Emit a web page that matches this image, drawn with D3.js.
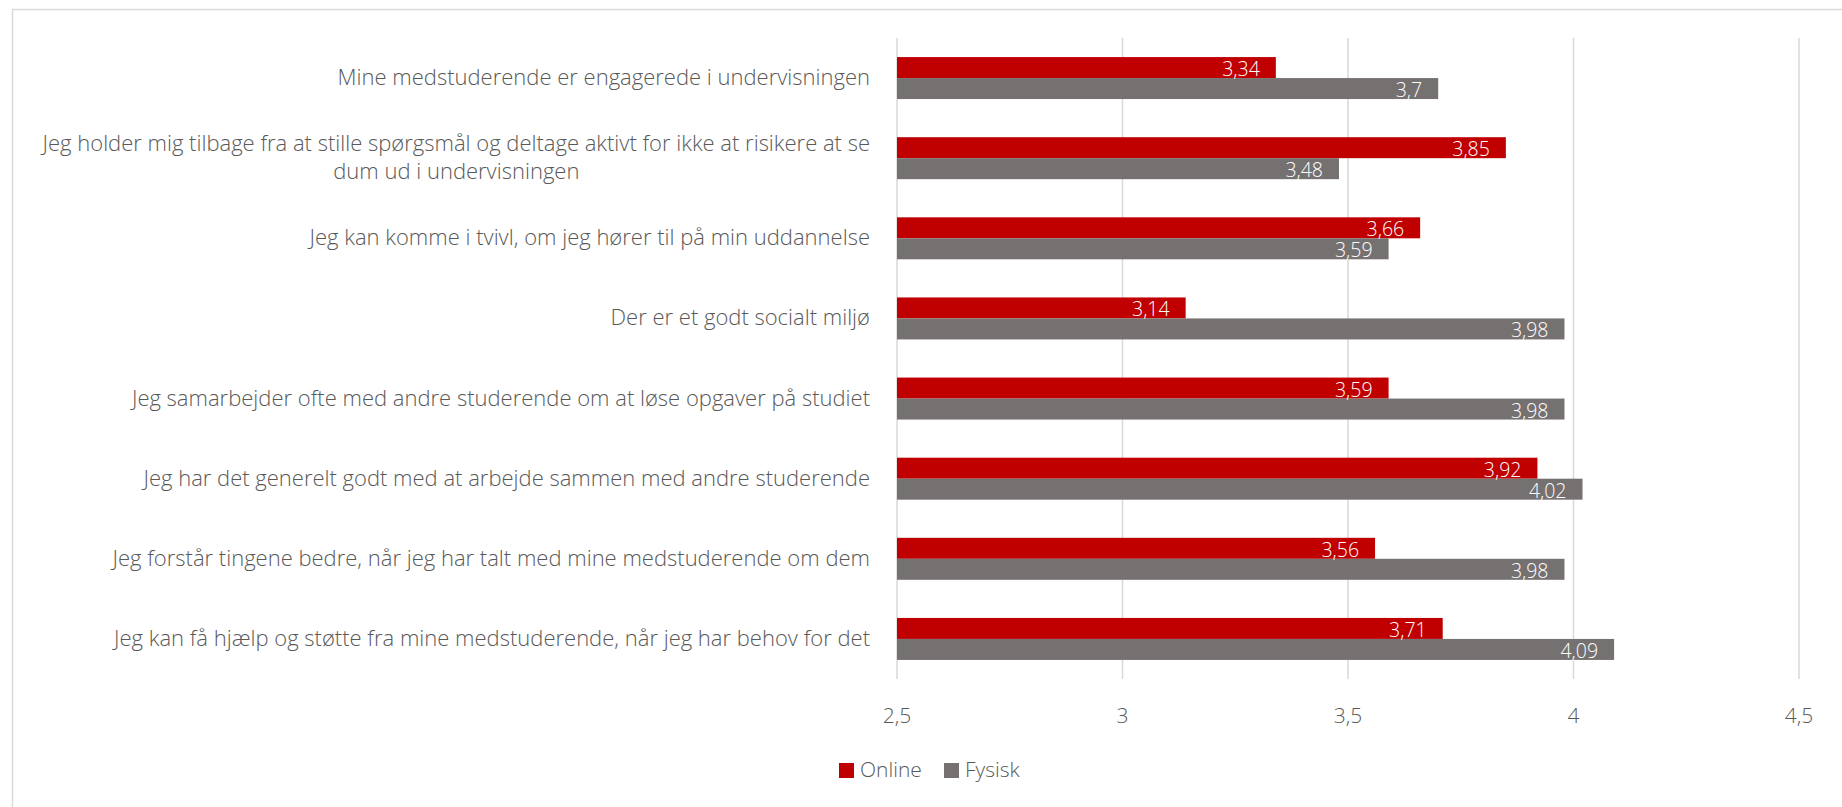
<!DOCTYPE html>
<html>
<head>
<meta charset="utf-8">
<script src="https://cdn.jsdelivr.net/npm/d3@7"></script>
<style>
  html, body { margin: 0; padding: 0; background: #fff; overflow: hidden; }
  svg text { font-family: "Open Sans", "Noto Sans", sans-serif; font-weight: 300; }
</style>
</head>
<body>
<div id="chart"></div>
<script>
(function () {
  var categories = [
    'Mine medstuderende er engagerede i undervisningen',
    'Jeg holder mig tilbage fra at stille spørgsmål og deltage aktivt for ikke at risikere at se\ndum ud i undervisningen',
    'Jeg kan komme i tvivl, om jeg hører til på min uddannelse',
    'Der er et godt socialt miljø',
    'Jeg samarbejder ofte med andre studerende om at løse opgaver på studiet',
    'Jeg har det generelt godt med at arbejde sammen med andre studerende',
    'Jeg forstår tingene bedre, når jeg har talt med mine medstuderende om dem',
    'Jeg kan få hjælp og støtte fra mine medstuderende, når jeg har behov for det'
  ];
  var online = [3.34, 3.85, 3.66, 3.14, 3.59, 3.92, 3.56, 3.71];
  var fysisk = [3.7, 3.48, 3.59, 3.98, 3.98, 4.02, 3.98, 4.09];
  var seriesNames = ['Online', 'Fysisk'];
  var seriesColors = ['#c00000', '#767171'];
  var xTicks = [2.5, 3, 3.5, 4, 4.5];

  var width = 1842;
  var height = 807;
  var plot = { left: 897, right: 1799, top: 38, bottom: 679 };
  var textColor = '#595959';

  var svg = d3.select('#chart')
    .append('svg')
    .attr('width', width)
    .attr('height', height);

  // chart frame
  svg.append('rect')
    .attr('x', 12.5).attr('y', 9.5)
    .attr('width', 1840).attr('height', 830)
    .attr('fill', 'none')
    .attr('stroke', '#d9d9d9')
    .attr('stroke-width', 1.5);

  var x = d3.scaleLinear().domain([2.5, 4.5]).range([plot.left, plot.right]);
  var y = d3.scaleBand()
    .domain(d3.range(categories.length))
    .range([plot.top, plot.bottom])
    .paddingInner(0.476)
    .paddingOuter(0.238);
  var ySub = d3.scaleBand().domain([0, 1]).range([0, y.bandwidth()]);

  // gridlines
  svg.append('g')
    .selectAll('line')
    .data(xTicks)
    .enter()
    .append('line')
    .attr('x1', function (d) { return x(d); })
    .attr('x2', function (d) { return x(d); })
    .attr('y1', plot.top)
    .attr('y2', plot.bottom)
    .attr('stroke', '#d9d9d9')
    .attr('stroke-width', 1.5);

  // x tick labels
  svg.append('g')
    .selectAll('text')
    .data(xTicks)
    .enter()
    .append('text')
    .attr('x', function (d) { return x(d); })
    .attr('y', 723)
    .attr('text-anchor', 'middle')
    .attr('fill', textColor)
    .style('font-size', '21px')
    .text(function (d) { return String(d).replace('.', ','); });

  var rows = categories.map(function (c, i) {
    return { i: i, values: [online[i], fysisk[i]] };
  });

  var groups = svg.append('g')
    .selectAll('g')
    .data(rows)
    .enter()
    .append('g')
    .attr('transform', function (d) { return 'translate(0,' + y(d.i) + ')'; });

  groups.selectAll('rect')
    .data(function (d) { return d.values; })
    .enter()
    .append('rect')
    .attr('x', x(2.5))
    .attr('y', function (d, j) { return ySub(j); })
    .attr('width', function (d) { return x(d) - x(2.5); })
    .attr('height', ySub.bandwidth())
    .attr('fill', function (d, j) { return seriesColors[j]; });

  groups.selectAll('text.val')
    .data(function (d) { return d.values; })
    .enter()
    .append('text')
    .attr('class', 'val')
    .attr('x', function (d) { return x(d) - 16; })
    .attr('y', function (d, j) { return ySub(j) + ySub.bandwidth() - 2; })
    .attr('text-anchor', 'end')
    .attr('fill', '#fff')
    .style('font-size', '19.5px')
    .text(function (d) { return String(d).replace('.', ','); });

  // category labels, right aligned next to the axis
  svg.append('g')
    .selectAll('text')
    .data(categories)
    .enter()
    .append('text')
    .attr('fill', textColor)
    .style('font-size', '22px')
    .each(function (d, i) {
      var lines = d.split('\n');
      var t = d3.select(this);
      var cy = y(i) + y.bandwidth() / 2;
      var lh = 28;
      var first = cy - (lines.length - 1) * lh / 2 + 7;
      if (lines.length === 1) {
        t.attr('x', 870).attr('y', first).attr('text-anchor', 'end').text(d);
        return;
      }
      // measure the widest line so the block stays right aligned
      var spans = lines.map(function (l, k) {
        return t.append('tspan').attr('y', first + k * lh).text(l);
      });
      var maxW = d3.max(spans, function (s) { return s.node().getComputedTextLength(); });
      var mid = 870 - maxW / 2;
      spans.forEach(function (s) { s.attr('x', mid); });
      t.attr('text-anchor', 'middle');
    });

  // legend
  var legend = svg.append('g');
  var legendX = [839, 944];
  seriesNames.forEach(function (name, k) {
    legend.append('rect')
      .attr('x', legendX[k]).attr('y', 763)
      .attr('width', 15).attr('height', 15)
      .attr('fill', seriesColors[k]);
    legend.append('text')
      .attr('x', legendX[k] + 21).attr('y', 777)
      .attr('fill', textColor)
      .style('font-size', '21px')
      .text(name);
  });
})();
</script>
</body>
</html>
